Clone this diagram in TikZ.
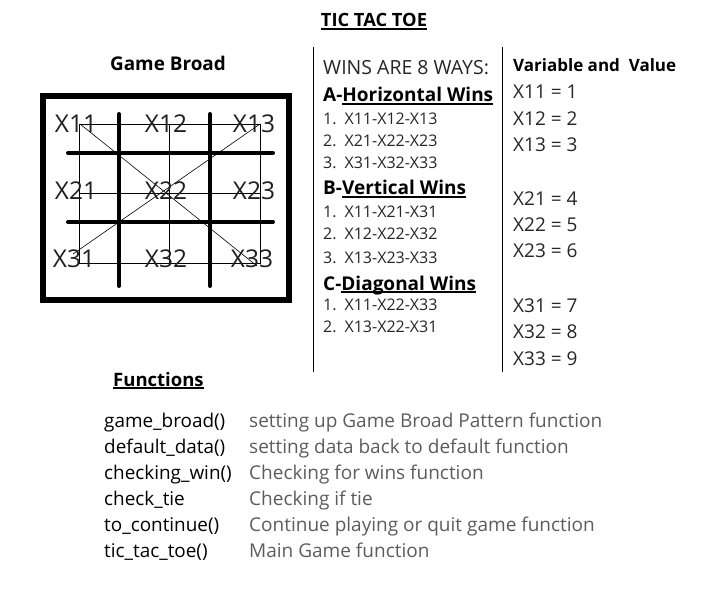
\documentclass[tikz,border=0pt]{standalone}
\usepackage{fontspec}
\setmainfont{Open Sans}
\newcommand\myul[2][1.4pt]{\setbox0\hbox{#2}\rlap{\rule[-2.6pt]{\wd0}{#1}}\box0}
\newcommand\itm[2]{#1\hspace{8pt}#2}
\begin{document}
\begin{tikzpicture}[x=1pt,y=-1pt,
  txt/.style={anchor=base west,inner sep=0pt,font=\fontsize{19.5}{22}\selectfont},
  lst/.style={anchor=base west,inner sep=0pt,font=\fontsize{16}{18}\selectfont,text=black!85},
  hd/.style={anchor=base west,inner sep=0pt,font=\fontsize{19}{22}\selectfont\bfseries},
  cell/.style={anchor=base,inner sep=0pt,font=\fontsize{24.5}{28}\selectfont,text=black!88},
  val/.style={anchor=base west,inner sep=0pt,font=\fontsize{19}{22}\selectfont,text=black!85},
  fn/.style={anchor=base west,inner sep=0pt,font=\fontsize{18.9}{22}\selectfont},
  desc/.style={anchor=base west,inner sep=0pt,font=\fontsize{19}{22}\selectfont,text=black!64},
  thick grid/.style={line width=4pt,line cap=round},
  thin grid/.style={line width=0.6pt}]
\useasboundingbox (0,0) rectangle (710,599);
% title
\node[anchor=base,inner sep=0pt,font=\fontsize{18.3}{21}\selectfont\bfseries] (title) at (374,27) {\myul[1.6pt]{TIC TAC TOE}};
\node[anchor=base,inner sep=0pt,font=\fontsize{18.9}{22}\selectfont\bfseries] (gb) at (168,71) {Game Broad};
% board
\draw[line width=6pt] (43,96) rectangle (289,300);
\draw[thin grid] (79,124) rectangle (260,263);
\draw[thin grid] (169,124) -- (169,263);
\draw[thin grid] (79,193) -- (260,193);
\draw[thin grid] (80,124) -- (257,266);
\draw[thin grid] (260,124) -- (73,254);
\draw[thick grid] (119,114) -- (119,286);
\draw[thick grid] (210,114) -- (210,286);
\draw[thick grid] (68,153) -- (273,153);
\draw[thick grid] (68,222) -- (273,222);
\node[cell] (x11) at (76,133) {X11};
\node[cell] (x12) at (166,133) {X12};
\node[cell] (x13) at (254,133) {X13};
\node[cell] (x21) at (76,200) {X21};
\node[cell] (x22) at (166,200) {X22};
\node[cell] (x23) at (254,200) {X23};
\node[cell] (x31) at (74,267) {X31};
\node[cell] (x32) at (166,267) {X32};
\node[cell] (x33) at (252,267) {X33};
% separators
\draw[line width=1pt] (313,47) -- (313,372);
\draw[line width=1pt] (502,47) -- (502,372);
% wins column
\node[txt,text=black!85] (ways) at (323,75) {WINS ARE 8 WAYS:};
\node[hd] (ha) at (323,102) {A-\myul[1.3pt]{Horizontal Wins}};
\node[lst] (a1) at (323,125) {\itm{1.}{X11-X12-X13}};
\node[lst] (a2) at (323,147) {\itm{2.}{X21-X22-X23}};
\node[lst] (a3) at (323,168) {\itm{3.}{X31-X32-X33}};
\node[hd] (hb) at (323,195) {B-\myul[1.3pt]{Vertical Wins}};
\node[lst] (b1) at (323,218) {\itm{1.}{X11-X21-X31}};
\node[lst] (b2) at (323,240) {\itm{2.}{X12-X22-X32}};
\node[lst] (b3) at (323,263) {\itm{3.}{X13-X23-X33}};
\node[hd] (hc) at (323,290) {C-\myul[1.3pt]{Diagonal Wins}};
\node[lst] (c1) at (323,310) {\itm{1.}{X11-X22-X33}};
\node[lst] (c2) at (323,332) {\itm{2.}{X13-X22-X31}};
% values column
\node[anchor=base west,inner sep=0pt,font=\fontsize{17}{20}\selectfont\bfseries] (vv) at (513,72) {Variable and\ \ Value};
\node[val] (v1) at (513,99) {X11 = 1};
\node[val] (v2) at (513,126) {X12 = 2};
\node[val] (v3) at (513,152) {X13 = 3};
\node[val] (v4) at (513,206) {X21 = 4};
\node[val] (v5) at (513,232) {X22 = 5};
\node[val] (v6) at (513,258) {X23 = 6};
\node[val] (v7) at (513,312) {X31 = 7};
\node[val] (v8) at (513,338) {X32 = 8};
\node[val] (v9) at (513,365) {X33 = 9};
% functions
\node[anchor=base west,inner sep=0pt,font=\fontsize{18.5}{21}\selectfont\bfseries] (fh) at (113,386) {\myul[1.5pt]{Functions}};
\node[fn] (f1) at (104,427) {game\_broad()};
\node[fn] (f2) at (104,453) {default\_data()};
\node[fn] (f3) at (104,479) {checking\_win()};
\node[fn] (f4) at (104,505) {check\_tie};
\node[fn] (f5) at (104,531) {to\_continue()};
\node[fn] (f6) at (104,557) {tic\_tac\_toe()};
\node[desc] (d1) at (249,427) {setting up Game Broad Pattern function};
\node[desc] (d2) at (249,453) {setting data back to default function};
\node[desc] (d3) at (249,479) {Checking for wins function};
\node[desc] (d4) at (249,505) {Checking if tie};
\node[desc] (d5) at (249,531) {Continue playing or quit game function};
\node[desc] (d6) at (249,557) {Main Game function};
\end{tikzpicture}
\end{document}
